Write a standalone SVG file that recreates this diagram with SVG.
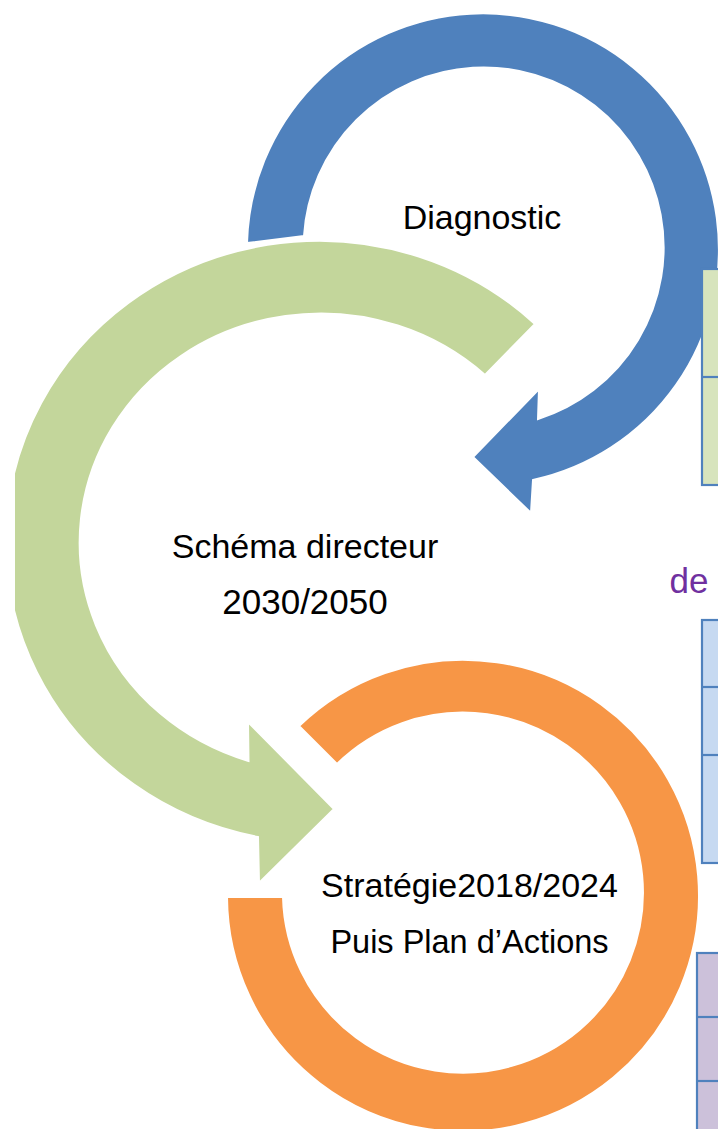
<svg xmlns="http://www.w3.org/2000/svg" width="718" height="1129" viewBox="0 0 718 1129">
<style>
  .lbl { font-family: "Liberation Sans", Arial, sans-serif; font-size: 34px; fill: #000; text-anchor: middle; }
  .arc { stroke: #fff; stroke-width: 2; stroke-linejoin: miter; }
  .tbl { stroke: #4f81bd; stroke-width: 2.2; }
</style>
<defs>
  <clipPath id="clipLeft"><rect x="15" y="0" width="703" height="1129"/></clipPath>
</defs>
<rect width="718" height="1129" fill="#fff"/>
<g id="connectors">
  <path id="arc-blue" class="arc" fill="#4f81bd" d="M 247 243 A 236 236 0 1 1 533 480 L 531 513 L 473 457 L 539 389 L 538 419 A 180 180 0 1 0 304 236 Z"/>
  <path id="arc-green" class="arc" fill="#c3d69b" clip-path="url(#clipLeft)" d="M 535 324 A 313 301 0 1 0 258 837 L 259 883 L 334 809 L 248 722 L 248.5 761 A 241 229 0 1 1 485 375 Z"/>
  <path id="arc-orange" class="arc" fill="#f79646" d="M 227 897 A 236 236 0 1 0 299 726 L 337 764 A 180 180 0 1 1 283 897 Z"/>
</g>
<g id="node-diagnostic">
  <text class="lbl" x="482" y="229">Diagnostic</text>
</g>
<g id="node-schema">
  <text class="lbl" x="305" y="558">Schéma directeur</text>
  <text class="lbl" x="305" y="614" style="font-size:35px">2030/2050</text>
</g>
<g id="node-strategie">
  <text class="lbl" x="469.5" y="897">Stratégie2018/2024</text>
  <text class="lbl" x="469.5" y="953" style="font-size:32.5px">Puis Plan d’Actions</text>
</g>
<g id="table-green">
  <rect class="tbl" x="702" y="269" width="30" height="216" fill="#d7e4bd"/>
  <line class="tbl" x1="702" y1="377" x2="718" y2="377"/>
</g>
<g id="label-de">
  <text x="689" y="593" style="font-family:'Liberation Sans',Arial,sans-serif;font-size:35px;fill:#7030a0;text-anchor:middle">de</text>
</g>
<g id="table-blue">
  <rect class="tbl" x="702" y="620" width="30" height="243" fill="#c6d9f1"/>
  <line class="tbl" x1="702" y1="687" x2="718" y2="687"/>
  <line class="tbl" x1="702" y1="755" x2="718" y2="755"/>
</g>
<g id="table-purple">
  <rect class="tbl" x="697" y="953" width="30" height="200" fill="#ccc1da"/>
  <line class="tbl" x1="697" y1="1017" x2="718" y2="1017"/>
  <line class="tbl" x1="697" y1="1081" x2="718" y2="1081"/>
</g>
</svg>
